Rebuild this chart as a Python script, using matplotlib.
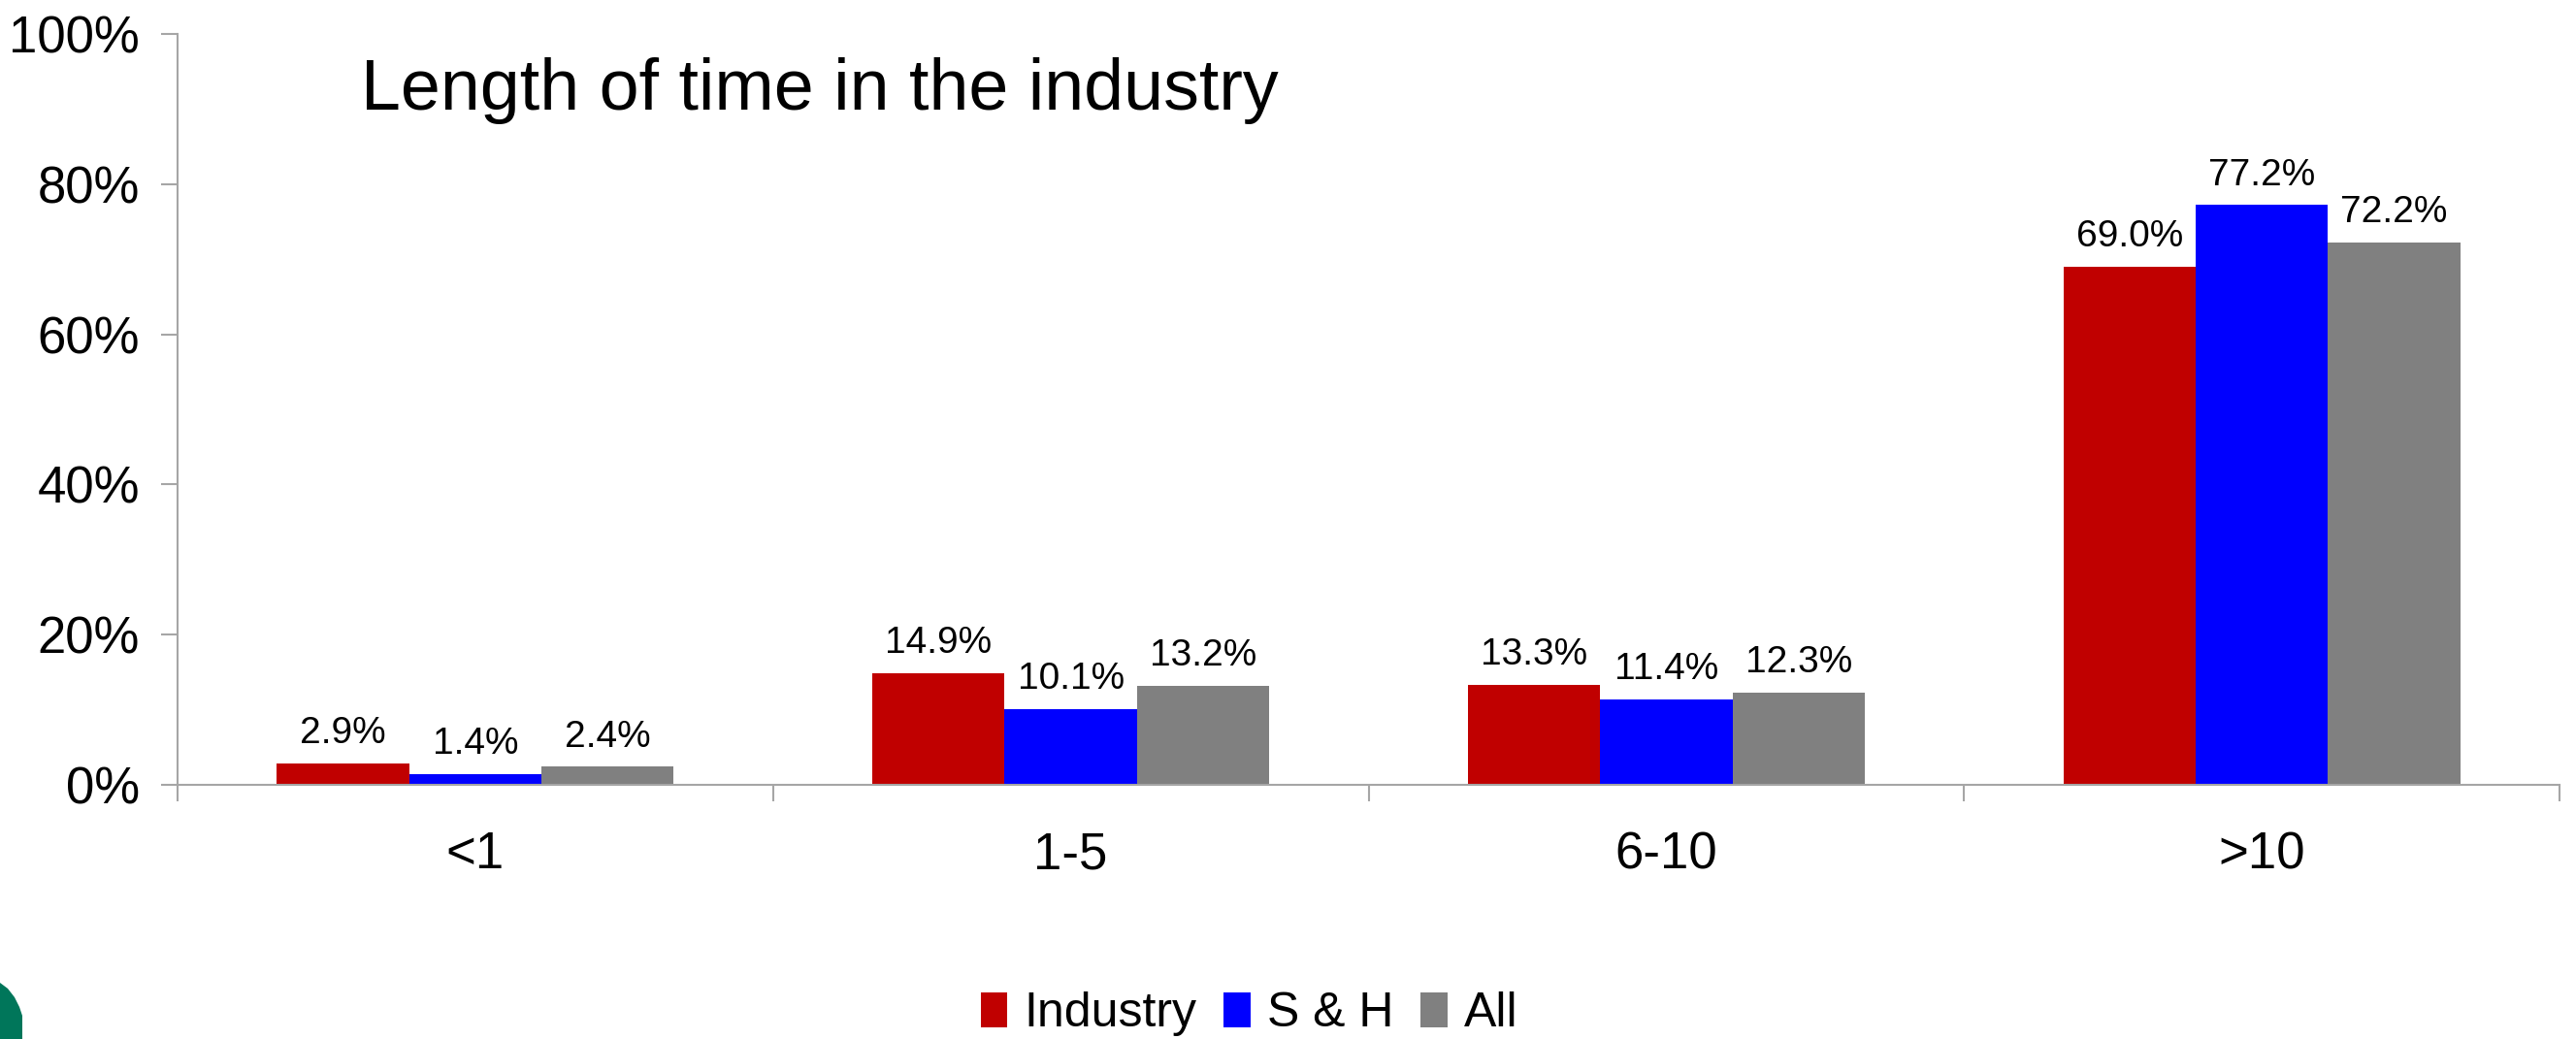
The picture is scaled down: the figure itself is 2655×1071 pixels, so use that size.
import numpy as np
import matplotlib
matplotlib.use('Agg')
import matplotlib.pyplot as plt
from matplotlib.patches import Polygon, Patch
from matplotlib.ticker import FixedLocator, FuncFormatter

plt.rcParams['font.family'] = ['Liberation Sans', 'DejaVu Sans']

# Data
categories = ['<1', '1-5', '6-10', '>10']
series = ['Industry', 'S & H', 'All']
industry = [2.9, 14.9, 13.3, 69.0]
s_and_h = [1.4, 10.1, 11.4, 77.2]
all_resp = [2.4, 13.2, 12.3, 72.2]
y_ticks = [0, 20, 40, 60, 80, 100]

colors = ['#C00000', '#0000FF', '#808080']
axis_grey = '#A6A6A6'

W, H = 2655, 1071
fig = plt.figure(figsize=(W / 100, H / 100), dpi=100)
ax = fig.add_axes([183 / W, 1 - 809 / H, (2638 - 183) / W, (809 - 35) / H])

centers = np.arange(len(categories)) + 0.5
bw = 0.222
for i, (vals, col) in enumerate(zip([industry, s_and_h, all_resp], colors)):
    x = centers + (i - 1) * bw
    ax.bar(x, vals, width=bw, color=col, linewidth=0, label=series[i])
    for xi, v in zip(x, vals):
        ax.annotate(f'{v:.1f}%', (xi, v), xytext=(0, 15), textcoords='offset points',
                    ha='center', va='baseline', fontsize=28)

ax.set_xlim(0, len(categories))
ax.set_ylim(0, 100)

# y axis
ax.set_yticks(y_ticks)
ax.yaxis.set_major_formatter(FuncFormatter(lambda v, p: f'{int(v)}%'))
ax.tick_params(axis='y', length=12, width=1.5, color=axis_grey, pad=16, labelsize=38)

# x axis: ticks at category boundaries, labels at centres
ax.xaxis.set_major_locator(FixedLocator(np.arange(len(categories) + 1)))
ax.xaxis.set_minor_locator(FixedLocator(centers))
ax.set_xticklabels([], minor=False)
ax.set_xticklabels(categories, minor=True)
ax.tick_params(axis='x', which='major', length=12, width=1.5, color=axis_grey)
ax.tick_params(axis='x', which='minor', length=0, pad=34, labelsize=38)

for side in ['top', 'right']:
    ax.spines[side].set_visible(False)
for side in ['left', 'bottom']:
    ax.spines[side].set_color(axis_grey)
    ax.spines[side].set_linewidth(1.5)

fig.text(372 / W, 1 - 113 / H, 'Length of time in the industry', fontsize=53,
         ha='left', va='baseline')

handles = [Patch(facecolor=c, edgecolor='none', label=s) for c, s in zip(colors, series)]
fig.legend(handles=handles, loc='center', bbox_to_anchor=(0.485, 0.024), ncol=3,
           frameon=False, fontsize=36, handlelength=0.55, handleheight=0.75,
           handletextpad=0.35, columnspacing=0.55)

# partial logo in the bottom-left corner
logo_px = [(0, 1013), (8, 1019), (15, 1028), (20, 1038), (23, 1047), (23, 1071), (0, 1071)]
logo = Polygon([(x / W, 1 - y / H) for x, y in logo_px], closed=True,
               transform=fig.transFigure, facecolor='#00765A', edgecolor='none')
fig.patches.append(logo)

fig.savefig('out.png', dpi=100)
